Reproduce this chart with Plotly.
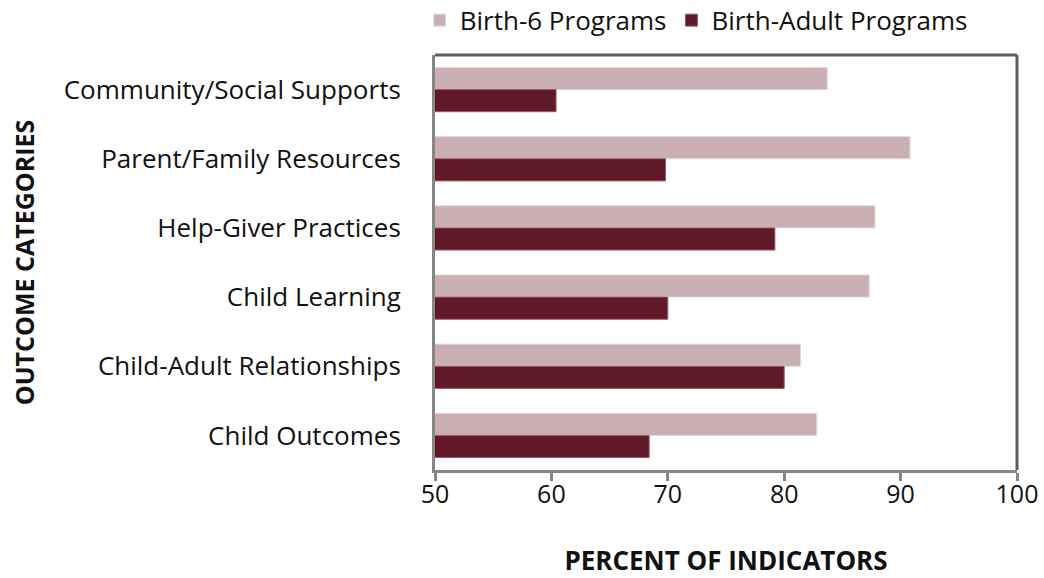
import plotly.graph_objects as go

# Categories listed top to bottom as they appear in the chart
categories = ['Community/Social Supports', 'Parent/Family Resources',
              'Help-Giver Practices', 'Child Learning',
              'Child-Adult Relationships', 'Child Outcomes']
birth_6 = [83.7, 90.8, 87.8, 87.3, 81.4, 82.8]
birth_adult = [60.4, 69.8, 79.2, 70.0, 80.0, 68.4]
x_ticks = [50, 60, 70, 80, 90, 100]

FONT = 'Open Sans, Carlito, Calibri, sans-serif'
LIGHT = '#C9AFB3'
DARK = '#621927'

fig = go.Figure()

# Birth-6 bars (shown on top within each group)
fig.add_trace(go.Bar(name='Birth-6 Programs', y=categories, x=birth_6,
                     orientation='h', base=0,
                     marker=dict(color=LIGHT, line=dict(color='#E6D8DA', width=1))))

# Birth-Adult bars
fig.add_trace(go.Bar(name='Birth-Adult Programs', y=categories, x=birth_adult,
                     orientation='h', base=0,
                     marker=dict(color=DARK, line=dict(color='#9A5A66', width=1))))

fig.update_layout(
    width=1044, height=578,
    barmode='group', bargap=0.36, bargroupgap=0,
    paper_bgcolor='white', plot_bgcolor='white',
    margin=dict(l=435, r=27, t=55, b=108, autoexpand=False),
    font=dict(family=FONT, size=25, color='#111111'),
    legend=dict(orientation='h', xref='container', yref='container',
                x=0.402, y=0.965, xanchor='left', yanchor='middle',
                font=dict(size=26), traceorder='normal', itemwidth=30,
                bgcolor='rgba(0,0,0,0)', borderwidth=0),
    xaxis=dict(range=[50, 100], tickvals=x_ticks, ticks='outside', ticklen=8,
               tickwidth=3, tickcolor='#868686', showline=True, linewidth=3,
               linecolor='#868686', showgrid=False, zeroline=False, automargin=False,
               tickfont=dict(size=25), ticklabelstandoff=-8,
               title=dict(text='<b>PERCENT OF INDICATORS</b>', font=dict(size=26),
                          standoff=56)),
    yaxis=dict(autorange='reversed', showline=True, linewidth=3, linecolor='#868686',
               ticks='', showgrid=False, automargin=False,
               tickfont=dict(size=26), ticklabelstandoff=26,
               title=dict(text='<b>OUTCOME CATEGORIES</b>', font=dict(size=25),
                          standoff=22)),
    shapes=[
        # darker top and right frame of the plot area
        dict(type='line', xref='paper', yref='paper', x0=0, x1=1, y0=1, y1=1,
             line=dict(color='#5E5E5E', width=3)),
        dict(type='line', xref='paper', yref='paper', x0=1, x1=1, y0=0, y1=1,
             line=dict(color='#5E5E5E', width=3)),
    ],
)

# drop the default body margin so the figure sits at the window's corner
fig.write_html('out.html', config={'displayModeBar': False},
               post_script="document.body.style.margin='0';")
